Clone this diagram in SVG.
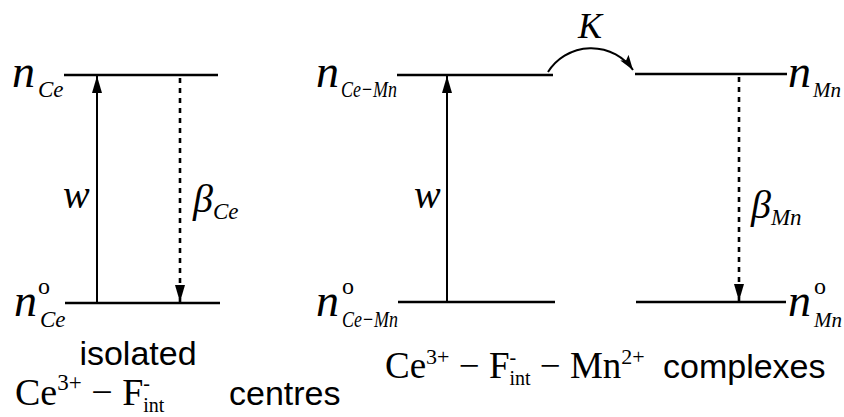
<svg xmlns="http://www.w3.org/2000/svg" width="844" height="417" viewBox="0 0 844 417">
<style>
.lvl{stroke:#000;stroke-width:2.4;fill:none}
.up{stroke:#000;stroke-width:2;fill:none}
.dash{stroke:#000;stroke-width:2.6;stroke-dasharray:5 5;fill:none}
.m{font-family:"Liberation Serif","Times New Roman",serif;font-style:italic;fill:#000}
.r{font-family:"Liberation Serif","Times New Roman",serif;fill:#000}
.s{font-family:"Liberation Sans",Arial,sans-serif;fill:#000}
</style>
<defs>
<marker id="ahs" viewBox="0 0 10 10" refX="10" refY="5" markerWidth="17" markerHeight="10" markerUnits="userSpaceOnUse" orient="auto" preserveAspectRatio="none"><path d="M0,0 L10,5 L0,10 z" fill="#000"/></marker>
<marker id="ahk" viewBox="0 0 10 10" refX="10" refY="5" markerWidth="15" markerHeight="10" markerUnits="userSpaceOnUse" orient="auto" preserveAspectRatio="none"><path d="M0,0 L10,5 L0,10 L2,5 z" fill="#000"/></marker>
</defs>
<g id="levels">
<line id="left-top" class="lvl" x1="64" y1="75" x2="218" y2="75"/>
<line id="left-bottom" class="lvl" x1="65" y1="303" x2="220" y2="303"/>
<line id="ce-mn-top" class="lvl" x1="397" y1="75" x2="553" y2="75"/>
<line id="mn-top" class="lvl" x1="635" y1="74" x2="787" y2="74"/>
<line id="ce-mn-bottom" class="lvl" x1="398" y1="302" x2="555" y2="302"/>
<line id="mn-bottom" class="lvl" x1="636" y1="302" x2="786" y2="302"/>
</g>
<g id="connectors">
<line class="up" x1="97" y1="303" x2="97" y2="76" marker-end="url(#ahs)"/>
<line class="dash" x1="180" y1="78" x2="180" y2="302" marker-end="url(#ahs)"/>
<line class="up" x1="447" y1="302" x2="447" y2="76" marker-end="url(#ahs)"/>
<line class="dash" x1="739" y1="77" x2="739" y2="301" marker-end="url(#ahs)"/>
<path class="up" d="M548,72 A51,51 0 0 1 633,70" marker-end="url(#ahk)"/>
</g>
<g id="labels">
<text class="m" x="12" y="87" font-size="46">n</text>
<text class="m" x="38" y="97" font-size="23">Ce</text>
<text class="m" x="14" y="316" font-size="46">n</text>
<text class="r" x="38" y="294" font-size="24">o</text>
<text class="m" x="40" y="327" font-size="23">Ce</text>
<text class="m" x="316" y="87" font-size="46">n</text>
<text class="m" x="341" y="97" font-size="23" textLength="56" lengthAdjust="spacingAndGlyphs">Ce−Mn</text>
<text class="m" x="316" y="316" font-size="46">n</text>
<text class="r" x="342" y="294" font-size="24">o</text>
<text class="m" x="342" y="327" font-size="23" textLength="56" lengthAdjust="spacingAndGlyphs">Ce−Mn</text>
<text class="m" x="788" y="87" font-size="46">n</text>
<text class="m" x="813" y="97" font-size="21">Mn</text>
<text class="m" x="788" y="316" font-size="46">n</text>
<text class="r" x="814" y="294" font-size="24">o</text>
<text class="m" x="814" y="327" font-size="21">Mn</text>
<text class="m" x="578" y="38" font-size="36">K</text>
<text class="m" x="63" y="208" font-size="40">w</text>
<text class="m" x="414" y="208" font-size="40">w</text>
<text class="m" x="193" y="212" font-size="40">β<tspan font-size="23" dy="7">Ce</tspan></text>
<text class="m" x="751" y="218" font-size="40">β<tspan font-size="23" dy="7">Mn</tspan></text>
<text class="s" x="138" y="365" font-size="34" text-anchor="middle">isolated</text>
<text class="r" x="15" y="405" font-size="38">Ce<tspan font-size="23" dy="-15">3+</tspan><tspan dy="15"> − F</tspan><tspan font-size="20" dy="-15">-</tspan><tspan font-size="20" dx="-6.7" dy="22">int</tspan></text>
<text class="s" x="229" y="405" font-size="34">centres</text>
<text class="r" x="385" y="378" font-size="37">Ce<tspan font-size="22" dy="-14">3+</tspan><tspan dy="14"> − F</tspan><tspan font-size="20" dy="-14">-</tspan><tspan font-size="20" dx="-6.7" dy="21">int</tspan><tspan dy="-7"> − Mn</tspan><tspan font-size="22" dy="-14">2+</tspan></text>
<text class="s" x="663" y="378" font-size="34">complexes</text>
</g>
</svg>
